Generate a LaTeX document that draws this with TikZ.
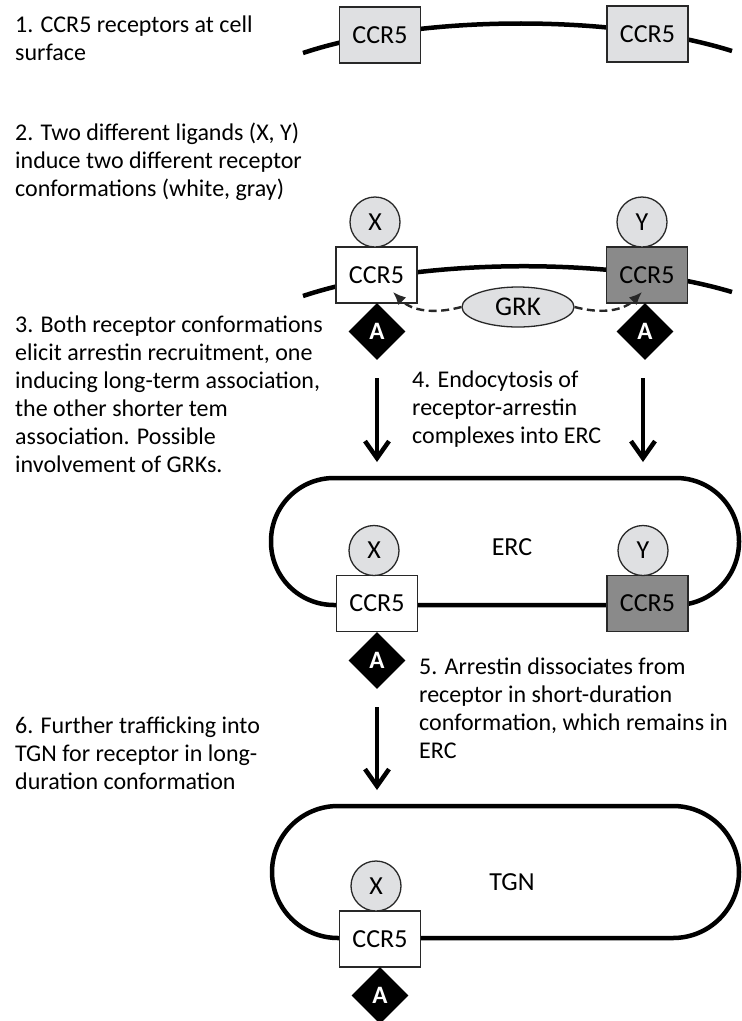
\documentclass[tikz,border=0pt]{standalone}
\usepackage{fontspec}
\setmainfont{Carlito}
\usetikzlibrary{shapes.geometric,arrows.meta}
\definecolor{lightfill}{RGB}{223,224,226}
\definecolor{darkfill}{RGB}{138,138,138}
\definecolor{edgecol}{RGB}{40,40,40}
\begin{document}
\begin{tikzpicture}[x=1pt,y=-1pt,
  every node/.style={font=\fontsize{24}{28}\selectfont},
  txt/.style={anchor=north west, align=left, inner sep=0pt, text=black},
  membrane/.style={line width=4.5pt, draw=black},
  rec/.style={draw=edgecol, line width=1.3pt, minimum width=81pt, minimum height=56pt, inner sep=0pt, font=\fontsize{26}{30}\selectfont},
  lig/.style={circle, draw=edgecol, line width=1.3pt, fill=lightfill, minimum size=50pt, inner sep=0pt, font=\fontsize{26}{30}\selectfont},
  arrestin/.style={diamond, fill=black, text=white, minimum width=57pt, minimum height=57pt, inner sep=0pt, font=\fontsize{25}{30}\selectfont\bfseries},
  grkshape/.style={ellipse, draw=edgecol, line width=1.3pt, fill=lightfill, minimum width=112pt, minimum height=40pt, inner sep=0pt, font=\fontsize{27}{30}\selectfont},
  dasharrow/.style={draw=edgecol, line width=2.4pt, dash pattern=on 8pt off 4.5pt, -{Latex[length=13pt,width=11pt]}},
  flow/.style={line width=4.5pt, -{Straight Barb[length=17pt,width=24pt]}},
  label/.style={inner sep=0pt, font=\fontsize{26}{30}\selectfont}
]
\useasboundingbox (0,0) rectangle (742,1021);

% ---------- texts ----------
\node[txt] (t1) at (15,16) {1. CCR5 receptors at cell\\surface};
\node[txt] (t2) at (15,123) {2. Two different ligands (X, Y)\\induce two different receptor\\conformations (white, gray)};
\node[txt] (t3) at (15,316) {3. Both receptor conformations\\elicit arrestin recruitment, one\\inducing long-term association,\\the other shorter tem\\association. Possible\\involvement of GRKs.};
\node[txt] (t4) at (412,371) {4. Endocytosis of\\receptor-arrestin\\complexes into ERC};
\node[txt] (t5) at (419,658) {5. Arrestin dissociates from\\receptor in short-duration\\conformation, which remains in\\ERC};
\node[txt] (t6) at (15,717) {6. Further trafficking into\\TGN for receptor in long-\\duration conformation};

% ---------- 1: cell surface ----------
\draw[membrane] (303,53) .. controls (420,14) and (615,14) .. (732,51);
\node[rec, fill=lightfill] (r1a) at (380,35) {CCR5};
\node[rec, fill=lightfill] (r1b) at (647.5,34) {CCR5};

% ---------- 2/3: ligands, arrestin, GRK ----------
\draw[membrane] (303,296) .. controls (420,257) and (615,257) .. (732,292);
\node[rec, fill=white] (r2a) at (376.5,275) {CCR5};
\node[rec, fill=darkfill] (r2b) at (647,275) {CCR5};
\node[lig] (x2) at (375,222) {X};
\node[lig] (y2) at (642,222) {Y};
\node[arrestin] (a2a) at (377,331.5) {A};
\node[arrestin] (a2b) at (645,331.5) {A};
\node[grkshape] (grk) at (518,307) {GRK};
\coordinate (tipL) at (393,292);
\coordinate (tipR) at (642,292);
\draw[dasharrow] (grk.west) to[out=195,in=-45] (tipL);
\draw[dasharrow] (grk.east) to[out=-15,in=225] (tipR);

% ---------- 4: endocytosis arrows ----------
\coordinate (f1s) at (377,378);
\coordinate (f1e) at (377,462);
\coordinate (f2s) at (643,378);
\coordinate (f2e) at (643,462);
\draw[flow] (f1s) -- (f1e);
\draw[flow] (f2s) -- (f2e);

% ---------- ERC ----------
\draw[membrane, rounded corners=63pt] (271,478) rectangle (739,605);
\node[label] (erc) at (512,547) {ERC};
\node[rec, fill=white] (r3a) at (377,603.5) {CCR5};
\node[rec, fill=darkfill] (r3b) at (647.5,603.5) {CCR5};
\node[lig] (x3) at (374,550.5) {X};
\node[lig] (y3) at (643,550.5) {Y};
\node[arrestin] (a3) at (377,660.5) {A};

% ---------- 6: to TGN ----------
\coordinate (f3s) at (377,707);
\coordinate (f3e) at (377,790);
\draw[flow] (f3s) -- (f3e);

% ---------- TGN ----------
\draw[membrane, rounded corners=66pt] (272,806) rectangle (739,938);
\node[label] (tgn) at (512,882) {TGN};
\node[rec, fill=white] (r4) at (380,939) {CCR5};
\node[lig] (x4) at (376,886) {X};
\node[arrestin] (a4) at (380,995.5) {A};
\end{tikzpicture}
\end{document}
